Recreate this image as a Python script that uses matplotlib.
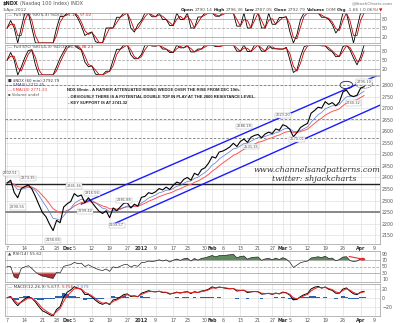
import numpy as np
import pandas as pd
import matplotlib
matplotlib.use("Agg")
import matplotlib.pyplot as plt
from matplotlib.patches import Ellipse

# ---------------- data ----------------
holidays = ["2011-11-24", "2011-12-26", "2012-01-02", "2012-01-16", "2012-02-20", "2012-04-06"]
closes = [2376, 2388, 2335, 2312, 2352, 2360, 2368, 2350, 2318, 2282,
          2248, 2230, 2198, 2170, 2214, 2204, 2272, 2286, 2296, 2330,
          2318, 2324, 2290, 2312, 2292, 2272, 2254, 2244, 2256, 2226,
          2268, 2256, 2272, 2288, 2290, 2268, 2284, 2276,
          2314, 2318, 2334, 2330, 2338, 2352, 2346, 2358, 2348, 2366,
          2380, 2374, 2392, 2400, 2388, 2418, 2410, 2434, 2442, 2462,
          2490, 2484, 2510, 2514, 2522, 2532, 2548, 2534, 2556, 2566,
          2552, 2574, 2582, 2586, 2572, 2588, 2596, 2590, 2610, 2604,
          2628, 2622, 2608, 2576, 2594, 2616, 2626, 2634, 2678, 2690,
          2704, 2700, 2728, 2716, 2724, 2710, 2726, 2770, 2778, 2756,
          2750, 2756, 2786, 2793]
tick_dates = ["2011-11-07", "2011-11-14", "2011-11-21", "2011-11-28", "2011-12-01", "2011-12-05",
              "2011-12-12", "2011-12-19", "2011-12-27", "2012-01-03", "2012-01-09", "2012-01-17",
              "2012-01-23", "2012-01-30", "2012-02-01", "2012-02-06", "2012-02-13", "2012-02-21",
              "2012-02-27", "2012-03-01", "2012-03-05", "2012-03-12", "2012-03-19", "2012-03-26",
              "2012-04-02", "2012-04-09"]
tick_labels = ["7", "14", "21", "28", "Dec", "5", "12", "19", "27", "2012", "9", "17", "23", "30",
               "Feb", "6", "13", "21", "27", "Mar", "5", "12", "19", "26", "Apr", "9"]
bold_labels = ["Dec", "2012", "Feb", "Mar", "Apr"]

# horizontal levels drawn on the price panel
solid_black_level = 2371
solid_gray_level = 2250
dashed_levels = [2800, 2653, 2570]
# channel lines: (date, price) endpoints
upper_chan = [("2011-12-07", 2285), ("2012-04-10", 2843)]
lower_chan = [("2011-12-20", 2198), ("2012-04-19", 2757)]
# price annotations: (date, price, text)
price_notes = [("2011-11-08", 2419, "2402.51"), ("2011-11-15", 2397, "2373.35"),
               ("2011-11-10", 2272, "2290.55"), ("2011-11-25", 2129, "2156.66"),
               ("2011-12-05", 2363, "2345.36"), ("2011-12-12", 2332, "2316.56"),
               ("2011-12-08", 2254, "2299.42"), ("2011-12-23", 2302, "2281.88"),
               ("2011-12-21", 2194, "2209.57"), ("2012-02-14", 2622, "2586.18"),
               ("2012-02-16", 2532, "2531.35"), ("2012-03-01", 2670, "2623.20"),
               ("2012-03-07", 2566, "2575.01"), ("2012-03-29", 2722, "2740.32"),
               ("2012-04-03", 2813, "2795.10")]

# the reference is an intraday (60 min) chart: indicator periods are scaled to daily points
bars_per_day = 4

# ---------------- calendar / indicators ----------------
cal = pd.bdate_range("2011-11-07", "2012-05-15")
cal = cal[~cal.isin(pd.to_datetime(holidays))]
n = len(closes)
x = np.arange(n)
s = pd.Series(closes, dtype=float)

def pos(d):
    return cal.get_indexer(pd.to_datetime([d]))[0]

tick_pos = [pos(d) for d in tick_dates]

ema_fast = s.ewm(span=5, adjust=False).mean()
ema_slow = s.ewm(span=10, adjust=False).mean()

def sto(nn, ks, ds):
    lo = s.rolling(nn, min_periods=1).min()
    hi = s.rolling(nn, min_periods=1).max()
    rng = (hi - lo).replace(0, np.nan)
    fast = (100 * (s - lo) / rng).fillna(50)
    k = fast.rolling(ks, min_periods=1).mean()
    d = k.rolling(ds, min_periods=1).mean()
    return k, d

k1, d1 = sto(3, 2, 2)
k2, d2 = sto(5, 2, 2)

rsi_period = 8
delta = s.diff().fillna(0)
gain = delta.clip(lower=0).ewm(alpha=1 / rsi_period, adjust=False).mean()
loss = (-delta.clip(upper=0)).ewm(alpha=1 / rsi_period, adjust=False).mean()
rsi = (100 - 100 / (1 + gain / loss.replace(0, np.nan))).fillna(50)

macd = (s.ewm(span=12 / bars_per_day, adjust=False).mean()
        - s.ewm(span=26 / bars_per_day, adjust=False).mean())
signal = macd.ewm(span=9 / bars_per_day, adjust=False).mean()
hist = macd - signal

# ---------------- figure ----------------
W, H = 400, 323
fig = plt.figure(figsize=(W / 100, H / 100), dpi=100)
fig.patch.set_facecolor("white")
XL = (-0.6, 105.5)
GRID = "#d9d9d9"
LBL = "#555555"

def add_ax(y0, y1, x0=5, x1=380):
    return fig.add_axes([x0 / W, 1 - y1 / H, (x1 - x0) / W, (y1 - y0) / H])

def style(ax, yt, ylim, xlabels=False):
    ax.set_xlim(*XL)
    ax.set_ylim(*ylim)
    ax.set_xticks(tick_pos)
    ax.set_yticks(yt)
    ax.yaxis.tick_right()
    ax.tick_params(axis="both", length=0, labelsize=3.4, colors=LBL, pad=1.5)
    ax.grid(True, color=GRID, lw=0.4)
    ax.set_axisbelow(True)
    for sp in ax.spines.values():
        sp.set_color("#9a9a9a")
        sp.set_linewidth(0.5)
    if xlabels:
        ax.set_xticklabels(tick_labels)
        for t in ax.get_xticklabels():
            if t.get_text() in bold_labels:
                t.set_fontweight("bold")
                t.set_color("#333333")
    else:
        ax.set_xticklabels([])

renderer = fig.canvas.get_renderer()

def rich(xp, yp, parts, size=3.3, family="DejaVu Sans"):
    for txt, col, wt in parts:
        t = fig.text(xp / W, 1 - yp / H, txt, color=col, fontsize=size, fontweight=wt,
                     va="center", ha="left", family=family)
        bb = t.get_window_extent(renderer)
        xp = bb.x1 + 0.8

# header
rich(3, 4, [("$NDX", "#222222", "bold"), ("(Nasdaq 100 Index) INDX", "#555555", "normal")], size=3.6)
rich(3, 10, [("3-Apr-2012", "#555555", "normal")], size=3.2)
rich(181, 10, [("Open", "#222222", "bold"), ("2790.14", "#555555", "normal"),
               ("High", "#222222", "bold"), ("2796.36", "#555555", "normal"),
               ("Low", "#222222", "bold"), ("2787.05", "#555555", "normal"),
               ("Close", "#222222", "bold"), ("2792.79", "#555555", "normal"),
               ("Volume", "#222222", "bold"), ("0.0M", "#555555", "normal"),
               ("Chg", "#222222", "bold"), ("-1.66 (-0.06%)", "#555555", "normal"),
               ("\u25bc", "#cc0000", "normal")], size=3.15)
fig.text(393 / W, 1 - 3.5 / H, "@StockCharts.com", fontsize=3.2, color="#777777", ha="right", va="center")

# ---- Full STO (5,3) ----
ax1 = add_ax(13, 43)
style(ax1, [20, 50, 80], (0, 100))
ax1.yaxis.grid(False)
for lv, ls in [(80, "-"), (20, "-"), (50, (0, (4, 2)))]:
    ax1.axhline(lv, color="#9a9a9a", lw=0.5, ls=ls)
ax1.plot(x, k1, color="black", lw=0.6)
ax1.plot(x, d1, color="#cc0000", lw=0.6)
rich(8, 15.5, [("\u2014 Full STO %K(5,3) %D(3) 41.12,", "#444444", "normal"), ("57.02", "#dd2222", "normal")], size=3.1)

# ---- Full STO (14,3) ----
ax2 = add_ax(45, 75)
style(ax2, [20, 50, 80], (0, 100))
ax2.yaxis.grid(False)
for lv, ls in [(80, "-"), (20, "-"), (50, (0, (4, 2)))]:
    ax2.axhline(lv, color="#9a9a9a", lw=0.5, ls=ls)
ax2.plot(x, k2, color="black", lw=0.6)
ax2.plot(x, d2, color="#cc0000", lw=0.6)
rich(8, 47.5, [("\u2014 Full STO %K(14,3) %D(3) 66.99,", "#444444", "normal"), ("68.23", "#dd2222", "normal")], size=3.1)

# ---- main price panel ----
axm = add_ax(76, 244)
style(axm, list(range(2150, 2801, 50)), (2112, 2839), xlabels=True)
axm.axhline(solid_black_level, color="#222222", lw=1.0)
axm.axhline(solid_gray_level, color="#888888", lw=1.4)
for lv in dashed_levels:
    axm.axhline(lv, color="#777777", lw=0.6, ls=(0, (3, 2)))
for chan in (upper_chan, lower_chan):
    axm.plot([pos(chan[0][0]), pos(chan[1][0])], [chan[0][1], chan[1][1]], color="#1a1aff", lw=1.0)
axm.plot(x, ema_slow, color="#ff5555", lw=0.7)
axm.plot(x, ema_fast, color="#5577cc", lw=0.5)
axm.plot(x, s, color="black", lw=0.8)
for d, p, t in price_notes:
    axm.text(pos(d), p, t, fontsize=2.6, color="#555555", ha="center", va="center",
             bbox=dict(boxstyle="square,pad=0.15", fc="white", ec="#aaaaaa", lw=0.3))
axm.add_patch(Ellipse((pos("2012-03-27"), 2800), 3.6, 32, fill=False, ec="#222222", lw=0.6))
axm.add_patch(Ellipse((pos("2012-04-03"), 2805), 4.8, 38, fill=False, ec="#666666", lw=0.5, ls=(0, (2, 1))))

rich(8, 80, [("\u25a0 $NDX (60 min) 2792.79", "#333333", "normal")], size=2.8)
rich(8, 85, [("\u2014 EMA(5) 2771.55", "#334499", "normal")], size=2.8)
rich(8, 90, [("\u2014 EMA(10) 2771.33", "#dd3333", "normal")], size=2.8)
rich(8, 94.5, [("\u25aa Volume undef", "#555555", "normal")], size=2.8)

note_lines = ["NDX 60min - A RATHER ATTENUATED RISING WEDGE OVER THE RISE FROM DEC 19th.",
              "- OBVIOUSLY THERE IS A POTENTIAL DOUBLE TOP IN PLAY AT THE 2800 RESISTANCE LEVEL.",
              "- KEY SUPPORT IS AT 2741.32"]
for i, (ln, yp) in enumerate(zip(note_lines, [90, 96.5, 103])):
    fig.text((67 if i == 0 else 68) / W, 1 - yp / H, ln, fontsize=3.0, fontweight="bold",
             color="#222222", family="Liberation Sans", va="center")

fig.text(317 / W, 1 - 170 / H, "www.channelsandpatterns.com", fontsize=5.8, style="italic",
         family="DejaVu Serif", color="#333333", ha="center", va="center")
fig.text(314 / W, 1 - 179 / H, "twitter: shjackcharts", fontsize=5.8, style="italic",
         family="DejaVu Serif", color="#333333", ha="center", va="center")

# ---- RSI ----
axr = add_ax(251, 282)
style(axr, [10, 30, 50, 70, 90], (0, 100))
axr.yaxis.grid(False)
for lv, ls in [(70, "-"), (30, "-"), (50, (0, (4, 2)))]:
    axr.axhline(lv, color="#9a9a9a", lw=0.5, ls=ls)
axr.fill_between(x, rsi, 70, where=rsi > 70, color="#5d8c5d", lw=0, interpolate=True)
axr.fill_between(x, rsi, 30, where=rsi < 30, color="#b03030", lw=0, interpolate=True)
axr.plot(x, rsi, color="#222222", lw=0.5)
axr.annotate("", xy=(102.3, 70), xytext=(96, 84),
             arrowprops=dict(arrowstyle="-|>", color="#ff2222", lw=0.8, mutation_scale=4))
rich(8, 253.5, [("\u25b2 RSI(14) 55.62", "#444444", "normal")], size=3.1)

# ---- MACD ----
axc = add_ax(284, 316)
style(axc, [-20, 0, 20], (-40, 30), xlabels=True)
axc.bar(x, hist, width=1.0, color="#2a62b0", lw=0)
axc.plot(x, macd, color="black", lw=0.7)
axc.plot(x, signal, color="#ee2222", lw=0.7)
rich(8, 286.5, [("\u2014 MACD(12,26,9) 5.677,", "#444444", "normal"), ("5.756,", "#dd2222", "normal"),
                ("-0.079", "#5577cc", "normal")], size=3.1)

fig.savefig("out.png", dpi=100, facecolor="white")
